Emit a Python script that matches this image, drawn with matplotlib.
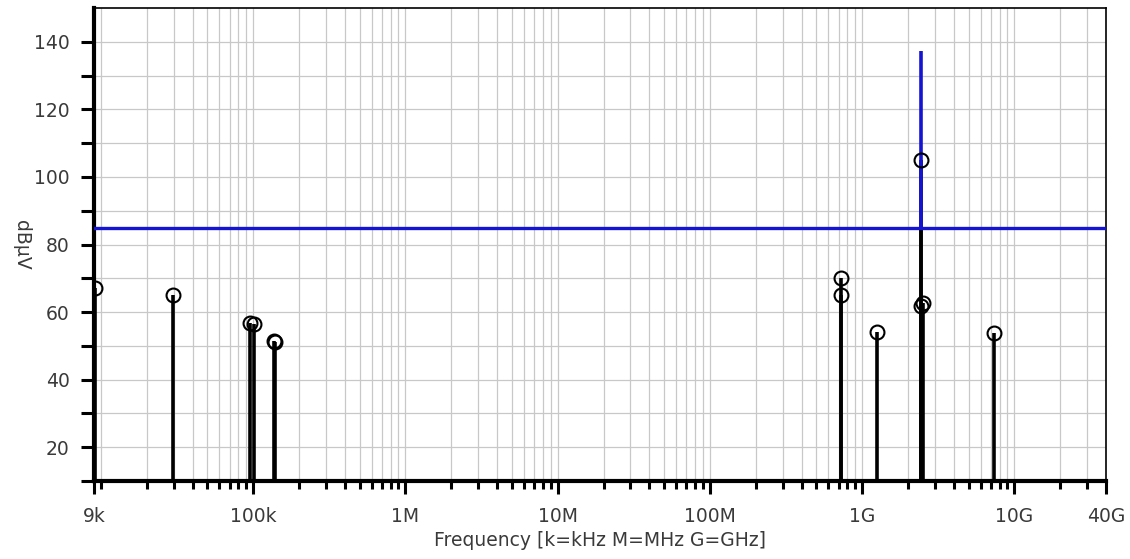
import numpy as np
import matplotlib
matplotlib.use("Agg")
import matplotlib.pyplot as plt
from matplotlib.ticker import FixedLocator, FixedFormatter, NullFormatter

# measured emissions (quasi-peak markers)
freq = [9.1e3, 29.5e3, 95e3, 101e3, 136e3, 138e3, 725e6, 730e6,
        1.25e9, 2.42e9, 2.45e9, 2.52e9, 7.4e9]
level = [67.2, 65.1, 56.9, 56.4, 51.3, 51.0, 70.1, 65.1,
         54.1, 61.8, 105.0, 62.8, 53.8]

# peak trace over the limit
peak_freq = [2.45e9]
peak_level = [137.4]

limit = 85.0

xtick_vals = [9e3, 1e5, 1e6, 1e7, 1e8, 1e9, 1e10, 4e10]
xtick_labels = ["9k", "100k", "1M", "10M", "100M", "1G", "10G", "40G"]
ytick_vals = [20, 40, 60, 80, 100, 120, 140]

plt.rcParams["font.family"] = ["DejaVu Sans"]
blue = "#1414d2"
txt = "#3a3a3a"

fig = plt.figure(figsize=(11.30, 5.59), dpi=100)
ax = fig.add_axes([0.0832, 0.1395, 0.8956, 0.8462])
ax.set_xscale("log")
ax.set_xlim(9e3, 4e10)
ax.set_ylim(10, 150)

bottom = 10
ax.vlines(freq, bottom, level, color="black", lw=2.6, zorder=3)
for f, p in zip(peak_freq, peak_level):
    ax.vlines(f, bottom, min(p, limit), color="black", lw=2.6, zorder=3)
    ax.vlines(f, limit, p, color=blue, lw=2.6, zorder=3)
ax.axhline(limit, color=blue, lw=2.4, zorder=4)
ax.plot(freq, level, "o", ms=10, mfc="none", mec="black", mew=1.5, zorder=5)

# ticks
minors = []
for d in range(3, 11):
    for m in range(1, 10):
        v = m * 10.0 ** d
        if 9e3 <= v <= 4e10 and v not in xtick_vals:
            minors.append(v)
ax.xaxis.set_major_locator(FixedLocator(xtick_vals))
ax.xaxis.set_major_formatter(FixedFormatter(xtick_labels))
ax.xaxis.set_minor_locator(FixedLocator(minors))
ax.xaxis.set_minor_formatter(NullFormatter())
ax.yaxis.set_major_locator(FixedLocator(ytick_vals))
ax.yaxis.set_minor_locator(FixedLocator([10, 30, 50, 70, 90, 110, 130]))

ax.tick_params(axis="x", which="major", length=9, width=2.2, pad=10,
               labelsize=13.5, labelcolor=txt)
ax.tick_params(axis="x", which="minor", length=5.5, width=2.2)
ax.tick_params(axis="y", which="both", length=9.5, width=2.2, pad=8,
               labelsize=13.5, labelcolor=txt)

ax.grid(True, which="both", color="#c8c8c8", lw=0.9)
ax.set_axisbelow(True)

for s in ["left", "bottom"]:
    ax.spines[s].set_linewidth(3)
for s in ["top", "right"]:
    ax.spines[s].set_linewidth(1.2)

ax.set_xlabel("Frequency [k=kHz M=MHz G=GHz]", fontsize=13.5, color=txt, labelpad=3)
ax.set_ylabel("dBµV", fontsize=13.5, rotation=270, color=txt)
ax.yaxis.set_label_coords(-0.081, 0.5)

fig.savefig("out.png", dpi=100)
